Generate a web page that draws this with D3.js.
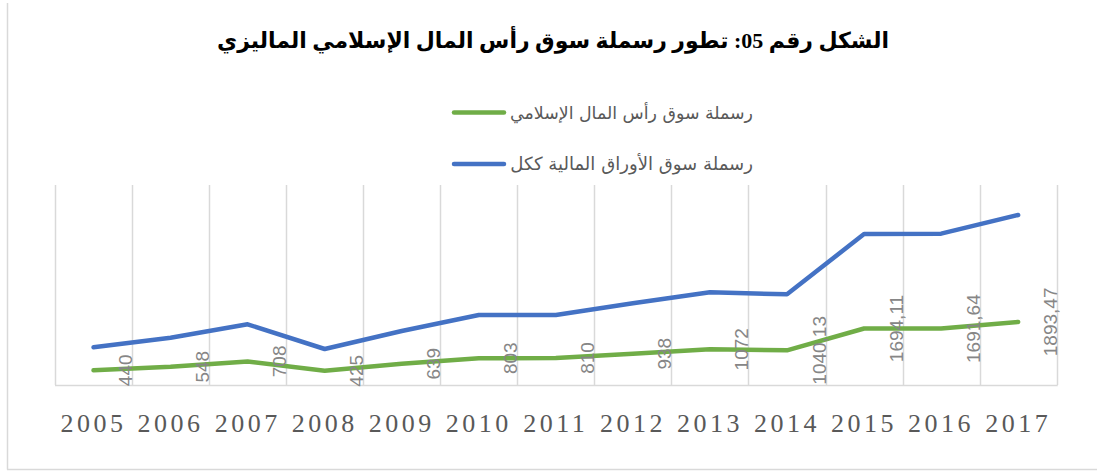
<!DOCTYPE html>
<html>
<head>
<meta charset="utf-8">
<script src="https://cdn.jsdelivr.net/npm/d3@7/dist/d3.min.js"></script>
<style>
  html, body { margin: 0; padding: 0; background: #fff; }
  svg { display: block; }
</style>
</head>
<body>
<svg id="chart" width="1097" height="471"></svg>
<script>
// ---- data ----
const years = ["2005","2006","2007","2008","2009","2010","2011","2012","2013","2014","2015","2016","2017"];
const islamicCap = [440, 548, 708, 425, 639, 803, 810, 938, 1072, 1040.13, 1694.11, 1691.64, 1893.47];
const totalCap = [1130, 1420, 1820, 1080, 1620, 2100, 2100, 2450, 2780, 2720, 4530, 4540, 5100];
const seriesNames = ["رسملة سوق رأس المال الإسلامي", "رسملة سوق الأوراق المالية ككل"];
const titleText = "الشكل رقم 05: تطور رسملة سوق رأس المال الإسلامي الماليزي";

const svg = d3.select("#chart");
const W = 1097, H = 471;
const plot = { left: 55, right: 1056.7, top: 185, bottom: 385 };

const x = d3.scaleBand().domain(years).range([plot.left, plot.right]).padding(0);
const y = d3.scaleLinear().domain([0, 6000]).range([plot.bottom, plot.top]);

// chart area border (left & bottom visible)
svg.append("line").attr("x1", 7.5).attr("x2", 7.5).attr("y1", 3).attr("y2", 469.5)
  .attr("stroke", "#d9d9d9").attr("stroke-width", 1.5);
svg.append("line").attr("x1", 7).attr("x2", W).attr("y1", 469.5).attr("y2", 469.5)
  .attr("stroke", "#d9d9d9").attr("stroke-width", 1.5);

// vertical gridlines at category boundaries
const edges = years.map(d => x(d)).concat([plot.right]);
svg.append("g").selectAll("line").data(edges).join("line")
  .attr("x1", d => Math.round(d) + 0.5).attr("x2", d => Math.round(d) + 0.5)
  .attr("y1", plot.top).attr("y2", plot.bottom)
  .attr("stroke", "#d9d9d9").attr("stroke-width", 1.5);

// bottom axis line
svg.append("line").attr("x1", plot.left).attr("x2", plot.right + 1)
  .attr("y1", plot.bottom + 0.5).attr("y2", plot.bottom + 0.5)
  .attr("stroke", "#d9d9d9").attr("stroke-width", 1.5);

// x-axis labels
const xAxis = d3.axisBottom(x).tickSize(0).tickPadding(0);
const gx = svg.append("g").attr("transform", `translate(0,${plot.bottom})`).call(xAxis);
gx.select(".domain").remove();
gx.selectAll("text")
  .attr("y", 46.5).attr("dy", null).attr("dx", 0)
  .attr("fill", "#595959")
  .style("font-family", "'Liberation Serif', 'Times New Roman', serif")
  .style("font-size", "26px")
  .style("letter-spacing", "3.5px");

// lines
const cx = d => x(d) + x.bandwidth() / 2;
const line = d3.line().x(d => cx(d[0])).y(d => y(d[1]));
svg.append("path").datum(years.map((yr, i) => [yr, totalCap[i]]))
  .attr("d", line).attr("fill", "none").attr("stroke", "#4472C4")
  .attr("stroke-width", 4.5).attr("stroke-linecap", "round").attr("stroke-linejoin", "round");
svg.append("path").datum(years.map((yr, i) => [yr, islamicCap[i]]))
  .attr("d", line).attr("fill", "none").attr("stroke", "#70AD47")
  .attr("stroke-width", 4.5).attr("stroke-linecap", "round").attr("stroke-linejoin", "round");

// data labels (rotated) for islamic series
const fmt = v => String(v).replace(".", ",");
svg.append("g").selectAll("text").data(years.map((yr, i) => [yr, islamicCap[i]])).join("text")
  .attr("transform", d => `translate(${cx(d[0]) + 32},${y(d[1])}) rotate(-90)`)
  .attr("text-anchor", "middle").attr("dominant-baseline", "central")
  .attr("fill", "#868686")
  .style("font-family", "'Liberation Sans', Arial, sans-serif")
  .style("font-size", "19px")
  .text(d => fmt(d[1]));

// title
const title = svg.append("text")
  .attr("x", 553).attr("y", 48)
  .attr("text-anchor", "middle")
  .attr("direction", "rtl")
  .attr("fill", "#000")
  .style("font-family", "'Liberation Serif', 'DejaVu Sans', serif")
  .style("font-weight", "bold")
  .style("font-size", "24px")
  .text(titleText);
{
  const w = title.node().getComputedTextLength();
  const fs = 24 * 672 / w;
  title.style("font-size", Math.min(fs, 30) + "px");
}

// legend
const legendY = [112.5, 164];
const legendColors = ["#70AD47", "#4472C4"];
seriesNames.forEach((name, i) => {
  svg.append("line").attr("x1", 454).attr("x2", 504)
    .attr("y1", legendY[i]).attr("y2", legendY[i])
    .attr("stroke", legendColors[i]).attr("stroke-width", 4.5).attr("stroke-linecap", "round");
  const t = svg.append("text")
    .attr("x", 753).attr("y", legendY[i] + 6)
    .attr("text-anchor", "end")
    .attr("fill", "#595959")
    .style("font-family", "'DejaVu Sans', sans-serif")
    .style("font-size", "18px")
    .text(name);
  const w = t.node().getComputedTextLength();
  t.style("font-size", Math.min(18 * 243 / w, 24) + "px");
});
</script>
</body>
</html>
